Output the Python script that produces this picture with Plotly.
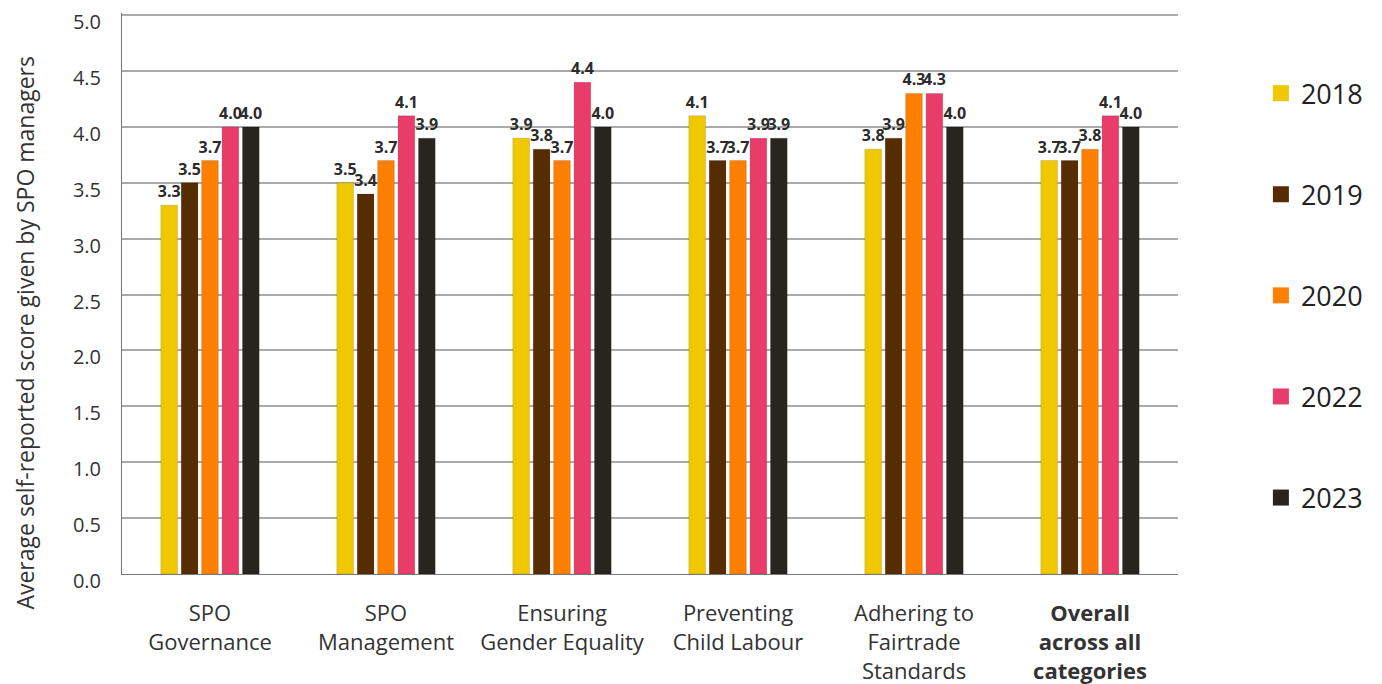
import plotly.graph_objects as go

categories = [
    "SPO<br>Governance",
    "SPO<br>Management",
    "Ensuring<br>Gender Equality",
    "Preventing<br>Child Labour",
    "Adhering to<br>Fairtrade<br>Standards",
    "<b>Overall<br>across all<br>categories</b>",
]
years = ["2018", "2019", "2020", "2022", "2023"]
scores_2018 = [3.3, 3.5, 3.9, 4.1, 3.8, 3.7]
scores_2019 = [3.5, 3.4, 3.8, 3.7, 3.9, 3.7]
scores_2020 = [3.7, 3.7, 3.7, 3.7, 4.3, 3.8]
scores_2022 = [4.0, 4.1, 4.4, 3.9, 4.3, 4.1]
scores_2023 = [4.0, 3.9, 4.0, 3.9, 4.0, 4.0]
colors = ["#f0c800", "#552d00", "#ff8000", "#e83d6b", "#282420"]
y_ticks = [0, 0.5, 1, 1.5, 2, 2.5, 3, 3.5, 4, 4.5, 5]

series = [scores_2018, scores_2019, scores_2020, scores_2022, scores_2023]
font_family = "Open Sans, Noto Sans, sans-serif"

fig = go.Figure()
for year, values, color in zip(years, series, colors):
    fig.add_trace(
        go.Bar(
            x=categories,
            y=values,
            name=year,
            legendgroup=year,
            showlegend=False,
            marker={"color": color, "line": {"color": "rgba(0,0,0,0.25)", "width": 0.5}},
            text=[f"{v:.1f}" for v in values],
            textposition="outside",
            textfont={"size": 16, "color": "#2b2b2b", "family": font_family, "weight": "bold"},
            cliponaxis=False,
        )
    )
    # legend-only trace so the legend gets bigger square swatches
    fig.add_trace(
        go.Scatter(
            x=[None],
            y=[None],
            mode="markers",
            name=year,
            legendgroup=year,
            marker={"symbol": "square", "size": 20, "color": color},
        )
    )

# page body adds an 8px offset, so the figure is sized to fit the window
fig.update_layout(
    width=1374,
    height=676,
    autosize=False,
    paper_bgcolor="white",
    plot_bgcolor="white",
    barmode="group",
    bargap=0.42,
    bargroupgap=0.18,
    uniformtext={"mode": "show", "minsize": 12},
    margin={"l": 114, "r": 204, "t": 5, "b": 110},
    font={"family": font_family, "color": "#333333"},
    xaxis={
        "tickfont": {"size": 22, "color": "#333333"},
        "showline": True,
        "linecolor": "#777777",
        "linewidth": 1,
        "ticks": "",
        "ticklabelstandoff": 20,
        "automargin": False,
    },
    yaxis={
        "range": [0, 5.02],
        "tickvals": y_ticks,
        "tickformat": ".1f",
        "tickfont": {"size": 20, "color": "#333333"},
        "gridcolor": "#aaaaaa",
        "gridwidth": 1.5,
        "showline": True,
        "linecolor": "#777777",
        "linewidth": 1,
        "zeroline": False,
        "ticklabelstandoff": 16,
        "ticklabelshift": 7,
        "ticklabeloverflow": "allow",
        "automargin": False,
    },
    annotations=[
        {
            "text": "Average self-reported score given by SPO managers",
            "textangle": -90,
            "xref": "paper",
            "yref": "paper",
            "x": -0.092,
            "y": 0.43,
            "xanchor": "center",
            "yanchor": "middle",
            "showarrow": False,
            "font": {"size": 23, "color": "#333333"},
        }
    ],
    legend={
        "x": 1.0785,
        "y": 0.90,
        "xanchor": "left",
        "yanchor": "top",
        "font": {"size": 27, "color": "#222222"},
        "traceorder": "grouped",
        "tracegroupgap": 63,
        "itemsizing": "trace",
        "itemwidth": 30,
    },
)

fig.write_html("out.html")
